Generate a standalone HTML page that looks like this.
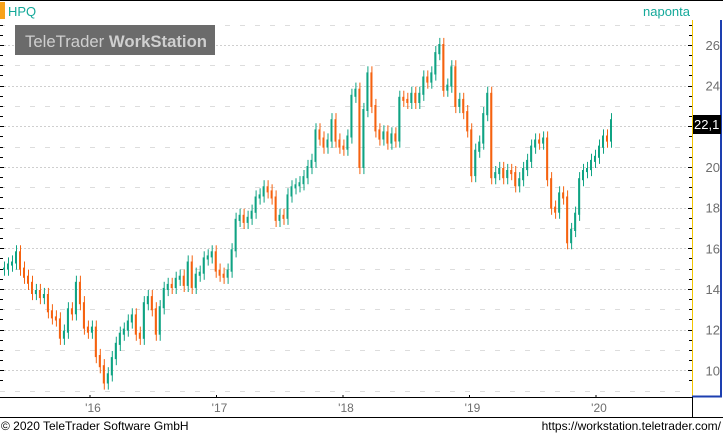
<!DOCTYPE html>
<html><head><meta charset="utf-8">
<style>
body{margin:0;background:#fff;width:723px;height:435px;overflow:hidden;font-family:"Liberation Sans",sans-serif;}
svg{display:block}
</style></head>
<body>
<svg id="chart" width="723" height="435" xmlns="http://www.w3.org/2000/svg">
  <rect x="0" y="0" width="723" height="435" fill="#fff"/>
  <line x1="0" y1="0.5" x2="723" y2="0.5" stroke="#000"/>
  <g id="grid"></g>
  <g id="marks"></g>
  <rect x="0" y="2" width="5" height="17" fill="#f7a21b"/>
  <text x="8" y="16" font-size="13" fill="#14a99a">HPQ</text>
  <text x="643" y="16" font-size="13" fill="#14a99a">naponta</text>
  <rect x="15" y="25" width="200" height="30" fill="#6b6b6b"/>
  <text x="25" y="47" font-size="17" fill="#cfcfcf" textLength="182" lengthAdjust="spacingAndGlyphs">TeleTrader <tspan font-weight="bold">WorkStation</tspan></text>
  <g id="axes"></g>
  <line x1="692.5" y1="20" x2="692.5" y2="397" stroke="#f2c400"/>
  <line x1="721" y1="20" x2="721" y2="397" stroke="#1d3fb0" stroke-width="2"/>
  <line x1="692" y1="396.5" x2="722" y2="396.5" stroke="#1d3fb0" stroke-width="2"/>
  <line x1="0" y1="397.5" x2="692" y2="397.5" stroke="#000"/>
  <line x1="692.5" y1="397" x2="692.5" y2="417" stroke="#000"/>
  <line x1="0" y1="417.5" x2="723" y2="417.5" stroke="#000"/>
  <rect x="693" y="115" width="28" height="19" fill="#000"/>
  <text x="694" y="129" font-size="13" fill="#fff">22,1</text>
  <text x="1" y="430" font-size="12" fill="#000">© 2020 TeleTrader Software GmbH</text>
  <text x="721" y="430" font-size="12" fill="#000" text-anchor="end">https://workstation.teletrader.com/</text>
</svg>
<script>
const closes = [15.0,15.2,15.3,15.8,15.0,14.6,14.3,13.8,13.9,13.6,13.7,12.9,12.6,12.5,11.6,11.9,13.0,12.8,14.3,13.3,12.1,11.9,12.1,10.7,10.2,9.4,9.8,10.6,11.3,11.8,12.0,12.4,12.7,11.8,11.6,13.3,13.6,13.0,11.8,13.1,14.0,14.2,14.1,14.5,14.6,14.2,15.3,14.1,14.7,14.8,15.5,15.6,15.8,14.9,14.7,14.6,14.9,15.9,17.4,17.6,17.3,17.5,17.8,18.5,18.6,19.0,18.8,18.5,17.4,17.6,17.5,18.6,19.0,19.1,19.2,19.5,20.0,20.3,21.8,21.4,21.0,21.3,22.3,21.3,21.0,20.9,21.5,23.5,23.8,20.0,22.8,24.6,23.0,21.8,21.4,21.7,21.2,21.6,21.3,23.4,23.3,23.2,23.6,23.2,23.6,24.4,24.2,24.6,25.6,26.0,23.8,24.0,24.9,23.0,23.3,22.7,21.8,19.6,20.8,21.2,22.6,23.6,19.5,19.7,19.9,19.5,19.8,19.7,19.1,19.4,19.9,20.3,21.0,21.3,21.2,21.4,19.4,18.0,17.8,18.7,18.5,16.3,16.9,17.7,19.4,19.8,19.9,20.3,20.5,21.0,21.5,21.3,22.3];
const yTicks = [10,12,14,16,18,20,22,24,26];
const xTickLabels = ["'16","'17","'18","'19","'20"];
const xTickYears = [2016,2017,2018,2019,2020];

const NS="http://www.w3.org/2000/svg";
const yScale = v => 45 + (26 - v) * 20.33;
const xScale = i => 3 + i * (607 / (closes.length - 1));
const yearScale = yr => 90 + (yr - 2016) * 126.5;

function mk(tag, attrs, parent){const e=document.createElementNS(NS,tag);for(const k in attrs)e.setAttribute(k,attrs[k]);parent.appendChild(e);return e;}
const grid=document.getElementById('grid'), marks=document.getElementById('marks'), axes=document.getElementById('axes');

for(let v=9; v<=27; v++){
  const y=Math.round(yScale(v))+0.5;
  if(y<20||y>396) continue;
  const even = v%2===0;
  const g = mk('line',{x1:0,y1:y,x2:690,y2:y,stroke:even?'#cfcfcf':'#dddddd','stroke-dasharray':even?'2,2':'5,10'},grid);
  
  
}
for(let v=9.5; v<=27; v+=0.5){
  const y=Math.round(yScale(v))+0.5;
  if(y<20||y>396) continue;
  const big = Number.isInteger(v) && v%2===0;
  const t1 = mk('line',{x1:0,y1:y,x2:big?4:3,y2:y,stroke:'#000'},axes);
  
  
  const t2 = mk('line',{x1:big?688:689,y1:y,x2:692,y2:y,stroke:'#000'},axes);
  
  
}
yTicks.forEach(v=>{
  const t = mk('text',{x:720,y:yScale(v)+5,'font-size':13,fill:'#6e6e6e','text-anchor':'end'},axes);
  t.textContent=v;
  
  
});
xTickYears.forEach((yr,i)=>{
  const x=yearScale(yr);
  const tk = mk('line',{x1:x,y1:395,x2:x,y2:397,stroke:'#000'},axes);
  
  
  const t = mk('text',{x:x+3,y:412,'font-size':12,fill:'#6e6e6e','text-anchor':'middle'},axes);
  t.textContent=xTickLabels[i];
  
  
});
closes.forEach((c,i)=>{
  const o = i>0 ? closes[i-1] : c;
  const up = c>=o;
  const col = up?'#0fa383':'#f5620f';
  const x = xScale(i);
  const hi = Math.max(o,c)+0.35, lo = Math.min(o,c)-0.35;
  const w = mk('line',{x1:(x+1.5).toFixed(1),y1:yScale(hi).toFixed(1),x2:(x+1.5).toFixed(1),y2:yScale(lo).toFixed(1),stroke:col,'stroke-width':1},marks);
  
  
  const r = mk('rect',{x:x.toFixed(1),y:yScale(Math.max(o,c)+0.05).toFixed(1),width:2,height:Math.max(1,(yScale(Math.min(o,c)-0.05)-yScale(Math.max(o,c)+0.05))).toFixed(1),fill:col},marks);
  
  
});
</script>
</body></html>
